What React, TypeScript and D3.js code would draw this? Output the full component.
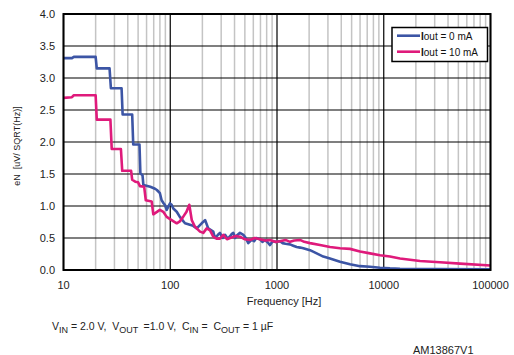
import React from "react";
import * as d3 from "d3";

// noise density, Iout = 0 mA
const freq0 = [10, 12, 12.5, 20, 20.5, 27, 27.8, 35, 35.8, 44, 45, 51.5, 52.5, 55, 56, 65, 72, 75, 80, 83, 86, 89, 92.6, 99.5, 103, 106.8, 115, 123, 130, 137.5, 150, 164, 177, 197, 212, 227,
  253, 262, 280, 292, 310, 326, 345, 360, 375, 390, 405, 420, 450, 484, 510, 538, 579, 610, 640, 693, 730, 772, 820, 860, 910, 960, 1067, 1130, 1200, 1324, 1420, 1529, 1650, 1764, 2038, 2354, 2715, 3137, 3892, 4830, 5991, 7433, 9224, 11440, 14200, 30000, 100000];
const en0 = [3.31, 3.31, 3.33, 3.33, 3.15, 3.15, 2.84, 2.84, 2.43, 2.43, 1.96, 1.96, 1.51, 1.48, 1.33, 1.3, 1.27, 1.25, 1.2, 1.09, 1.05, 1.02, 0.94, 1.04, 1.02, 0.96, 0.91, 0.83, 0.78, 0.73, 0.71, 0.69, 0.65, 0.73, 0.78, 0.65,
  0.6, 0.5, 0.55, 0.58, 0.5, 0.55, 0.49, 0.52, 0.56, 0.58, 0.5, 0.54, 0.58, 0.55, 0.5, 0.42, 0.47, 0.45, 0.5, 0.48, 0.44, 0.47, 0.43, 0.39, 0.45, 0.44, 0.45, 0.42, 0.41, 0.4, 0.38, 0.36, 0.35, 0.34, 0.31, 0.26, 0.21, 0.18, 0.13, 0.09, 0.06, 0.05, 0.035, 0.025, 0.02, 0.015, 0.01];

// noise density, Iout = 10 mA
const freq10 = [10, 12, 12.5, 20, 20.5, 27.5, 28.3, 34.5, 35.5, 43, 44, 47, 50, 52, 57, 59, 67, 69.4, 80, 86, 92.6, 103, 115, 123, 132, 142, 150.8, 159, 170, 190, 204, 219.5, 236,
  253, 272, 292, 314, 340, 363, 410, 450, 500, 558, 620, 693, 780, 860, 960, 1067, 1200, 1324, 1450, 1642, 1800, 2038, 2528, 3137, 3892, 4830, 5991, 7433, 9224, 11440, 14200, 21860, 33650, 51800, 100000];
const en10 = [2.69, 2.7, 2.73, 2.73, 2.35, 2.35, 1.89, 1.89, 1.55, 1.55, 1.41, 1.38, 1.37, 1.31, 1.3, 1.09, 1.07, 0.87, 0.94, 0.91, 0.83, 0.78, 0.73, 0.76, 0.83, 0.91, 1.02, 0.78, 0.68, 0.6, 0.58, 0.65, 0.62,
  0.52, 0.49, 0.49, 0.55, 0.48, 0.5, 0.53, 0.52, 0.48, 0.47, 0.5, 0.48, 0.46, 0.47, 0.44, 0.45, 0.47, 0.44, 0.46, 0.47, 0.44, 0.42, 0.39, 0.36, 0.34, 0.33, 0.29, 0.26, 0.23, 0.21, 0.18, 0.14, 0.12, 0.1, 0.07];

const xTicks = [10, 100, 1000, 10000, 100000];
const yTicks = [0, 0.5, 1, 1.5, 2, 2.5, 3, 3.5, 4];
const seriesNames = ["0 mA", "10 mA"];
const seriesColors = ["#3c55a5", "#df1a7b"];

const W = 514;
const H = 355;
const left = 63.5;
const right = 490.5;
const top = 14;
const bottom = 270;
const font = "'Liberation Sans', Arial, sans-serif";

export default function App() {
  const x = d3.scaleLog().domain([10, 100000]).range([left, right]);
  const y = d3.scaleLinear().domain([0, 4]).range([bottom, top]);

  const minor: number[] = [];
  for (let k = 1; k < 5; k++) {
    for (let m = 2; m < 10; m++) minor.push(m * Math.pow(10, k));
  }

  const line = d3
    .line<[number, number]>()
    .x((d) => x(d[0]))
    .y((d) => y(d[1]));

  const series = [
    freq0.map((f, i) => [f, en0[i]] as [number, number]),
    freq10.map((f, i) => [f, en10[i]] as [number, number]),
  ];

  return (
    <svg
      width={W}
      height={H}
      style={{ position: "fixed", left: 0, top: 0, background: "#fff" }}
      fontFamily={font}
    >
      <rect width={W} height={H} fill="#fff" />
      {minor.map((f) => (
        <line key={"m" + f} x1={x(f)} x2={x(f)} y1={top} y2={bottom} stroke="#c4c4c4" strokeWidth={1.5} />
      ))}
      {yTicks.map((t) => (
        <line key={"h" + t} x1={left} x2={right} y1={y(t)} y2={y(t)} stroke="#000" strokeWidth={1.2} />
      ))}
      {xTicks.map((t) => (
        <line key={"v" + t} x1={x(t)} x2={x(t)} y1={top} y2={bottom} stroke="#000" strokeWidth={1.2} />
      ))}

      {series.map((s, i) => (
        <path key={i} d={line(s) || ""} fill="none" stroke={seriesColors[i]} strokeWidth={2.6} strokeLinejoin="round" />
      ))}

      <rect x={left} y={top} width={right - left} height={bottom - top} fill="none" stroke="#000" strokeWidth={2} />

      {yTicks.map((t) => (
        <text key={"yl" + t} x={55} y={y(t) + 4} textAnchor="end" fontSize={11} fill="#222">
          {t.toFixed(1)}
        </text>
      ))}
      {xTicks.map((t) => (
        <text key={"xl" + t} x={x(t)} y={289} textAnchor="middle" fontSize={11} fill="#222">
          {t}
        </text>
      ))}

      <text transform="translate(20,146) rotate(-90)" textAnchor="middle" fontSize={9} fill="#222" style={{ whiteSpace: "pre" }}>
        {"eN  [uV/ SQRT(Hz)]"}
      </text>
      <text x={284} y={305} textAnchor="middle" fontSize={11} fill="#222">
        Frequency [Hz]
      </text>

      <g>
        <rect x={392} y={27.5} width={95.5} height={34} fill="#fff" stroke="#000" strokeWidth={1.5} />
        {seriesNames.map((n, i) => (
          <g key={n}>
            <line x1={397} x2={420} y1={35.7 + i * 16} y2={35.7 + i * 16} stroke={seriesColors[i]} strokeWidth={2.6} />
            <text x={421} y={39.5 + i * 16} fontSize={10} fill="#111">
              <tspan fontWeight="bold">I</tspan>out = {n}
            </text>
          </g>
        ))}
      </g>

      <text x={52} y={330} fontSize={10.5} fill="#222" style={{ whiteSpace: "pre" }}>
        V<tspan fontSize={9} dy={2.5}>IN</tspan>
        <tspan dy={-2.5}>{" = 2.0 V,  V"}</tspan>
        <tspan fontSize={9} dy={2.5}>{"OUT "}</tspan>
        <tspan dy={-2.5}>{" =1.0 V,  C"}</tspan>
        <tspan fontSize={9} dy={2.5}>IN</tspan>
        <tspan dy={-2.5}>{" =  C"}</tspan>
        <tspan fontSize={9} dy={2.5}>OUT</tspan>
        <tspan dy={-2.5}>{" = 1 µF"}</tspan>
      </text>
      <text x={413} y={354} fontSize={11} fill="#222">
        AM13867V1
      </text>
    </svg>
  );
}
